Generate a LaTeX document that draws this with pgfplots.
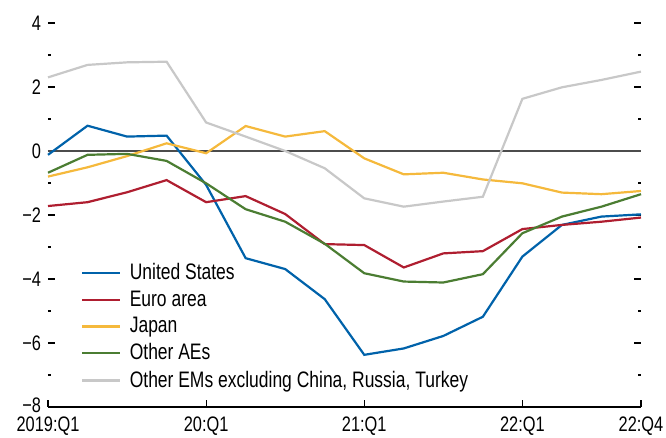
\documentclass[border=0pt]{standalone}
\usepackage{fontspec}
\setmainfont{Liberation Sans}[FakeStretch=0.78]
\usepackage{pgfplots}
\pgfplotsset{compat=1.18}
\definecolor{cUS}{RGB}{0,98,170}
\definecolor{cEA}{RGB}{175,30,48}
\definecolor{cJP}{RGB}{245,185,60}
\definecolor{cAE}{RGB}{75,125,50}
\definecolor{cEM}{RGB}{200,200,200}
\begin{document}
\begin{tikzpicture}
\useasboundingbox (-24pt,-15.5pt) rectangle (309pt,203.5pt);
\begin{axis}[
  scale only axis, width=296.5pt, height=192pt,
  xmin=0, xmax=15, ymin=-8, ymax=4,
  axis line style={draw=none},
  xtick={0,4,8,12,15},
  xticklabels={2019:Q1,20:Q1,21:Q1,22:Q1,22:Q4},
  xtick pos=bottom,
  xticklabel style={yshift=-1.2pt},
  ytick={-8,-6,-4,-2,0,2,4},
  yticklabels={\raisebox{1.5pt}{−8},−6,−4,−2,0,2,4},
  minor ytick={-7,-5,-3,-1,1,3},
  ytick pos=both, yticklabel pos=left,
  tick align=inside,
  major tick length=3.5pt, minor tick length=1.6pt,
  every tick/.style={black, line width=0.6pt},
  tick label style={font=\fontsize{10.5}{12}\selectfont},
  legend style={at={(0.055,0.385)}, anchor=north west, draw=none, fill=none,
    font=\fontsize{11.2}{12.45}\selectfont, legend cell align=left, inner sep=0pt,
    /tikz/every odd column/.append style={column sep=2.2pt}},
  legend image code/.code={\draw[#1, line width=1.2pt] (0pt,0pt) -- (19pt,0pt);},
  every axis plot/.append style={line width=1.1pt},
  clip=false,
]
\draw[black!70, line width=0.6pt] (axis cs:0,0) -- (axis cs:15,0);
\draw[black, line width=0.6pt] (rel axis cs:0,0) -- (rel axis cs:1,0);
\addplot[cUS] coordinates {(0,-0.12) (1,0.79) (2,0.45) (3,0.48) (4,-1.06) (5,-3.35) (6,-3.69) (7,-4.63) (8,-6.37) (9,-6.17) (10,-5.78) (11,-5.18) (12,-3.30) (13,-2.31) (14,-2.05) (15,-1.98)};
\addplot[cEA] coordinates {(0,-1.72) (1,-1.60) (2,-1.29) (3,-0.91) (4,-1.60) (5,-1.41) (6,-1.97) (7,-2.91) (8,-2.94) (9,-3.64) (10,-3.20) (11,-3.13) (12,-2.44) (13,-2.31) (14,-2.21) (15,-2.08)};
\addplot[cJP] coordinates {(0,-0.80) (1,-0.51) (2,-0.16) (3,0.24) (4,-0.07) (5,0.78) (6,0.45) (7,0.62) (8,-0.23) (9,-0.73) (10,-0.68) (11,-0.89) (12,-1.01) (13,-1.30) (14,-1.35) (15,-1.25)};
\addplot[cAE] coordinates {(0,-0.68) (1,-0.12) (2,-0.09) (3,-0.31) (4,-1.01) (5,-1.82) (6,-2.21) (7,-2.90) (8,-3.82) (9,-4.08) (10,-4.11) (11,-3.85) (12,-2.57) (13,-2.05) (14,-1.74) (15,-1.35)};
\addplot[cEM] coordinates {(0,2.30) (1,2.69) (2,2.77) (3,2.79) (4,0.89) (5,0.45) (6,0.0) (7,-0.54) (8,-1.48) (9,-1.74) (10,-1.58) (11,-1.43) (12,1.63) (13,1.99) (14,2.22) (15,2.48)};
\legend{United States, Euro area, Japan, Other AEs, {Other EMs excluding China, Russia, Turkey}}
\end{axis}
\end{tikzpicture}
\end{document}
